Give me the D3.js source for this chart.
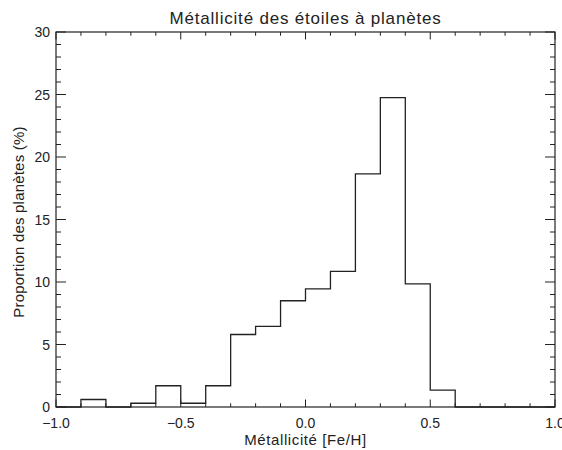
<!DOCTYPE html>
<html><head><meta charset="utf-8">
<script src="https://cdn.jsdelivr.net/npm/d3@7"></script>
<style>body{margin:0;background:#fff}svg{display:block}text{font-family:"Liberation Sans",sans-serif;fill:#222}</style>
</head><body><svg id="c" width="562" height="450"></svg>
<script>
const binStarts = [-1.0,-0.9,-0.8,-0.7,-0.6,-0.5,-0.4,-0.3,-0.2,-0.1,0.0,0.1,0.2,0.3,0.4,0.5,0.6,0.7,0.8,0.9];
const percents  = [0,0.6,0,0.3,1.7,0.3,1.7,5.8,6.45,8.5,9.45,10.85,18.65,24.75,9.85,1.35,0,0,0,0];
const xTicks = [-1.0,-0.5,0.0,0.5,1.0];
const yTicks = [0,5,10,15,20,25,30];
const binWidth = 0.1;

const svg = d3.select("#c");
const L=56,R=555,T=32,B=407;
const x = d3.scaleLinear().domain([-1,1]).range([L,R]);
const y = d3.scaleLinear().domain([0,30]).range([B,T]);
const col="#222";

// frame
svg.append("rect").attr("x",L).attr("y",T).attr("width",R-L).attr("height",B-T)
  .attr("fill","none").attr("stroke",col).attr("stroke-width",1.2);

// x ticks
const xMinor = d3.range(-10,11).map(i=>i/10);
xMinor.forEach(v=>{
  const major = Math.abs(v*2-Math.round(v*2))<1e-9;
  const len = major?7.5:3.75;
  svg.append("line").attr("x1",x(v)).attr("x2",x(v)).attr("y1",B).attr("y2",B-len).attr("stroke",col);
  svg.append("line").attr("x1",x(v)).attr("x2",x(v)).attr("y1",T).attr("y2",T+len).attr("stroke",col);
});
xTicks.forEach(v=>{
  svg.append("text").attr("x",x(v)).attr("y",428).attr("text-anchor","middle").attr("font-size",14)
    .text(v<0?"\u2212"+Math.abs(v).toFixed(1):v.toFixed(1));
});
// y ticks
d3.range(0,31).forEach(v=>{
  const major = v%5===0;
  const len = major?10:5;
  svg.append("line").attr("x1",L).attr("x2",L+len).attr("y1",y(v)).attr("y2",y(v)).attr("stroke",col);
  svg.append("line").attr("x1",R).attr("x2",R-len).attr("y1",y(v)).attr("y2",y(v)).attr("stroke",col);
});
yTicks.forEach(v=>{
  svg.append("text").attr("x",50).attr("y",y(v)+5).attr("text-anchor","end").attr("font-size",14).text(v);
});

// histogram step line
const pts=[];
binStarts.forEach((s,i)=>{pts.push([s,percents[i]]);pts.push([s+binWidth,percents[i]]);});
const line = d3.line().x(d=>x(d[0])).y(d=>y(d[1]));
svg.append("path").attr("d",line(pts)).attr("fill","none").attr("stroke",col).attr("stroke-width",1.3);

// titles
svg.append("text").attr("x",(L+R)/2).attr("y",24).attr("text-anchor","middle").attr("font-size",17)
  .attr("letter-spacing",0.8).text("Métallicité des étoiles à planètes");
svg.append("text").attr("x",(L+R)/2).attr("y",445).attr("text-anchor","middle").attr("font-size",15)
  .attr("letter-spacing",0.6).text("Métallicité [Fe/H]");
svg.append("text").attr("transform","translate(24,222) rotate(-90)").attr("text-anchor","middle").attr("font-size",15)
  .attr("letter-spacing",0.2).text("Proportion des planètes (%)");
</script></body></html>
